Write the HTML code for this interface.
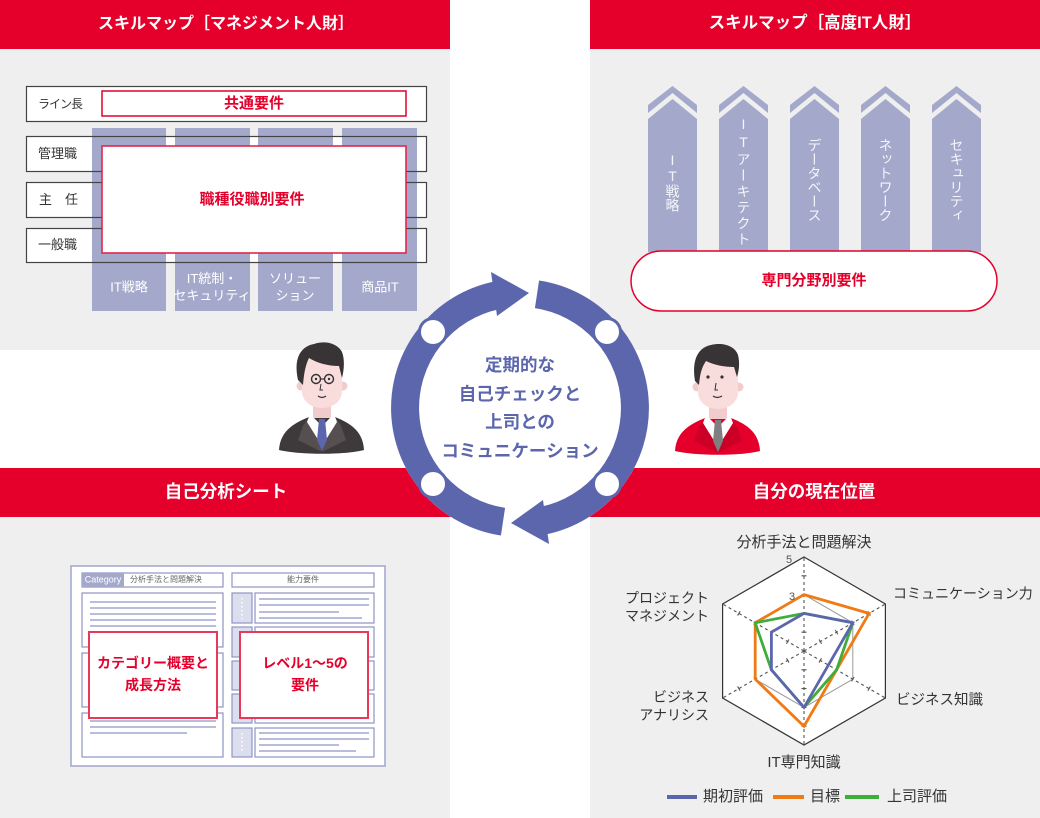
<!DOCTYPE html>
<html><head><meta charset="utf-8">
<style>
*{margin:0;padding:0;box-sizing:border-box}
html,body{width:1040px;height:818px;overflow:hidden;background:#fff}
body{position:relative;font-family:"Liberation Sans","Noto Sans CJK JP",sans-serif}
svg{position:absolute;left:0;top:0}
.t{position:absolute;white-space:nowrap;line-height:1.2}
.c{transform:translate(-50%,-50%);text-align:center}
.l{transform:translate(0,-50%)}
.r{transform:translate(-100%,-50%);text-align:right}
.v{position:absolute;writing-mode:vertical-rl;text-orientation:upright;transform:translate(-50%,-50%);color:#f4f5fa;font-size:14px;line-height:1;white-space:nowrap}
.hd{color:#fff;font-weight:bold}
.rd{color:#e4002b;font-weight:bold;font-size:15px}
.wl{color:#fff;font-size:13px;line-height:17px}
.lb{color:#333;font-size:13px}
.rl{color:#333;font-size:14.5px}
</style></head><body>
<svg width="1040" height="818" viewBox="0 0 1040 818">
<defs>
<g id="ax" stroke="#555" stroke-width="1.1" fill="none"><line x1="804" y1="651" x2="804" y2="557" stroke-dasharray="3 3"/><path d="M801.5 632.2H806.5M801.5 613.4H806.5M801.5 594.6H806.5M801.5 575.8H806.5"/></g>
</defs>
<!-- backgrounds -->
<rect x="0" y="0" width="450" height="49" fill="#e4002b"/>
<rect x="590" y="0" width="450" height="49" fill="#e4002b"/>
<rect x="0" y="49" width="450" height="301" fill="#eeefee"/>
<rect x="590" y="49" width="450" height="301" fill="#eeefee"/>
<rect x="0" y="468" width="1040" height="49" fill="#e4002b"/>
<rect x="0" y="517" width="450" height="301" fill="#eeefee"/>
<rect x="590" y="517" width="450" height="301" fill="#eeefee"/>

<!-- top-left panel -->
<rect x="26.5" y="86.5" width="400" height="35" fill="#fff" stroke="#444" stroke-width="1.2"/>
<rect x="102" y="91" width="304" height="25" fill="#fff" stroke="#e4002b" stroke-width="1.5"/>
<rect x="26.5" y="136.5" width="400" height="35" fill="#fff"/>
<rect x="26.5" y="182.5" width="400" height="35" fill="#fff"/>
<rect x="26.5" y="228.5" width="400" height="34" fill="#fff"/>
<g fill="#a4a9cb">
<rect x="92" y="128" width="74" height="183"/>
<rect x="175" y="128" width="75" height="183"/>
<rect x="258" y="128" width="75" height="183"/>
<rect x="342" y="128" width="75" height="183"/>
</g>
<g fill="none" stroke="#444" stroke-width="1.2">
<rect x="26.5" y="136.5" width="400" height="35"/>
<rect x="26.5" y="182.5" width="400" height="35"/>
<rect x="26.5" y="228.5" width="400" height="34"/>
</g>
<rect x="102" y="146" width="304" height="107" fill="#fff" stroke="#e5254a" stroke-width="1.6"/>

<!-- top-right panel -->
<g fill="#a4a9cb">
<polygon points="648,105 672.5,86 697,105 697,113 672.5,93 648,113"/><polygon points="648,119 672.5,99 697,119 697,252 648,252"/>
<polygon points="719,105 743.5,86 768,105 768,113 743.5,93 719,113"/><polygon points="719,119 743.5,99 768,119 768,252 719,252"/>
<polygon points="790,105 814.5,86 839,105 839,113 814.5,93 790,113"/><polygon points="790,119 814.5,99 839,119 839,252 790,252"/>
<polygon points="861,105 885.5,86 910,105 910,113 885.5,93 861,113"/><polygon points="861,119 885.5,99 910,119 910,252 861,252"/>
<polygon points="932,105 956.5,86 981,105 981,113 956.5,93 932,113"/><polygon points="932,119 956.5,99 981,119 981,252 932,252"/>
</g>
<rect x="631" y="251" width="366" height="60" rx="30" ry="30" fill="#fff" stroke="#e4002b" stroke-width="1.5"/>

<!-- sheet -->
<rect x="71" y="566" width="314" height="200" fill="#fff" stroke="#a0a5cd" stroke-width="1.5"/>
<rect x="82" y="573" width="141" height="14" fill="#fff" stroke="#8f94c3" stroke-width="1.2"/>
<rect x="82" y="573" width="42" height="14" fill="#a4a9cb"/>
<rect x="232" y="573" width="142" height="14" fill="#fff" stroke="#8f94c3" stroke-width="1.2"/>
<g fill="#fff" stroke="#8f94c3" stroke-width="1.2">
<rect x="82" y="593" width="141" height="54"/>
<rect x="82" y="653" width="141" height="54"/>
<rect x="82" y="713" width="141" height="44"/>
<rect x="255" y="593" width="119" height="30"/>
<rect x="255" y="627" width="119" height="30"/>
<rect x="255" y="661" width="119" height="29"/>
<rect x="255" y="694" width="119" height="29"/>
<rect x="255" y="728" width="119" height="29"/>
</g>
<g fill="#dcdeee" stroke="#8f94c3" stroke-width="1.2">
<rect x="232" y="593" width="20" height="30"/>
<rect x="232" y="627" width="20" height="30"/>
<rect x="232" y="661" width="20" height="29"/>
<rect x="232" y="694" width="20" height="29"/>
<rect x="232" y="728" width="20" height="29"/>
</g>
<g stroke="#fff" stroke-width="1.5" stroke-dasharray="1.5 2.5">
<line x1="242" y1="598" x2="242" y2="619"/>
<line x1="242" y1="632" x2="242" y2="653"/>
<line x1="242" y1="666" x2="242" y2="686"/>
<line x1="242" y1="699" x2="242" y2="719"/>
<line x1="242" y1="733" x2="242" y2="753"/>
</g>
<g stroke="#b9bcdb" stroke-width="2">
<line x1="90" y1="602" x2="216" y2="602"/>
<line x1="90" y1="608" x2="216" y2="608"/>
<line x1="90" y1="614" x2="216" y2="614"/>
<line x1="90" y1="620" x2="216" y2="620"/>
<line x1="90" y1="626" x2="216" y2="626"/>
<line x1="90" y1="721" x2="216" y2="721"/>
<line x1="90" y1="727" x2="216" y2="727"/>
<line x1="90" y1="733" x2="187" y2="733"/>
<line x1="259" y1="599" x2="369" y2="599"/>
<line x1="259" y1="605" x2="369" y2="605"/>
<line x1="259" y1="612" x2="339" y2="612"/>
<line x1="259" y1="618" x2="362" y2="618"/>
<line x1="259" y1="633" x2="369" y2="633"/>
<line x1="259" y1="667" x2="369" y2="667"/>
<line x1="259" y1="700" x2="369" y2="700"/>
<line x1="259" y1="733" x2="369" y2="733"/>
<line x1="259" y1="739" x2="369" y2="739"/>
<line x1="259" y1="745" x2="339" y2="745"/>
<line x1="259" y1="751" x2="356" y2="751"/>
</g>
<rect x="89" y="632" width="128" height="86" fill="#fff" stroke="#e8395c" stroke-width="2"/>
<rect x="240" y="632" width="128" height="86" fill="#fff" stroke="#e8395c" stroke-width="2"/>

<!-- radar -->
<polygon points="804,557 885.4,604 885.4,698 804,745 722.6,698 722.6,604" fill="#fff" stroke="#333" stroke-width="1.2"/>
<polygon points="804,594.6 852.8,622.8 852.8,679.2 804,707.4 755.2,679.2 755.2,622.8" fill="none" stroke="#999" stroke-width="1"/>
<use href="#ax"/>
<use href="#ax" transform="rotate(60 804 651)"/>
<use href="#ax" transform="rotate(120 804 651)"/>
<use href="#ax" transform="rotate(180 804 651)"/>
<use href="#ax" transform="rotate(240 804 651)"/>
<use href="#ax" transform="rotate(300 804 651)"/>
<polygon points="804,594.6 869.1,613.4 836.6,669.8 804,726.2 755.2,679.2 755.2,622.8" fill="none" stroke="#f07a14" stroke-width="2.8" stroke-linejoin="miter"/>
<polygon points="804,613.4 852.8,622.8 836.6,669.8 804,707.4 771.4,669.8 755.2,622.8" fill="none" stroke="#3dae3a" stroke-width="2.8"/>
<polygon points="804,613.4 852.8,622.8 828.4,665.1 804,707.4 771.4,669.8 771.4,632.2" fill="none" stroke="#5b66ad" stroke-width="2.8"/>
<g stroke-width="4">
<line x1="667" y1="797" x2="697" y2="797" stroke="#5b66ad"/>
<line x1="773" y1="797" x2="804" y2="797" stroke="#f07a14"/>
<line x1="845" y1="797" x2="879" y2="797" stroke="#3dae3a"/>
</g>
<text x="789" y="563" font-size="11" fill="#555" text-anchor="middle" font-family="Liberation Sans, sans-serif">5</text>
<text x="792" y="600" font-size="11" fill="#555" text-anchor="middle" font-family="Liberation Sans, sans-serif">3</text>

<!-- left man -->
<g>
<path d="M279,450 C280,433 291,424 309,417 L335,417 C353,424 363,433 364,450 C345,455 300,455 279,450Z" fill="#3e3a3b"/>
<path d="M309,417 L322,452 L298,440 L303,426Z" fill="#55504f"/>
<path d="M335,417 L322,452 L346,440 L341,426Z" fill="#55504f"/>
<rect x="313" y="398" width="18" height="20" fill="#f2cccc"/>
<path d="M310,414 L322,426 L334,414 L337,422 L322,446 L307,422Z" fill="#fff"/>
<path d="M319,419 L325,419 L327,440 L322,451 L317,440Z" fill="#5b66ad"/>
<circle cx="301" cy="386" r="4.5" fill="#f2cccc"/>
<circle cx="343" cy="386" r="4.5" fill="#f2cccc"/>
<path d="M302,356 L342,356 L342,391 C342,401 333,408 322,408 C311,408 302,401 302,391Z" fill="#f9dcdc"/>
<path d="M298,380 C294,362 298,347 314,344 C326,340 338,344 342,352 C345,360 344,370 342,378 L339,366 C328,366 317,363 309,358 C306,364 304,372 303,385Z" fill="#383435"/>
<circle cx="316" cy="379" r="4.5" fill="none" stroke="#333" stroke-width="1.4"/>
<circle cx="329" cy="379" r="4.5" fill="none" stroke="#333" stroke-width="1.4"/>
<line x1="320.5" y1="379" x2="324.5" y2="379" stroke="#333" stroke-width="1.2"/>
<circle cx="316" cy="379" r="1.2" fill="#333"/><circle cx="329" cy="379" r="1.2" fill="#333"/>
<path d="M321,384 L320,390 L323,390" fill="none" stroke="#333" stroke-width="1"/>
<path d="M318,396 Q322,399 326,396" fill="none" stroke="#333" stroke-width="1.2"/>
</g>
<!-- right man -->
<g transform="translate(396,1)">
<path d="M279,450 C280,433 291,424 309,417 L335,417 C353,424 363,433 364,450 C345,455 300,455 279,450Z" fill="#e4002b"/>
<path d="M309,417 L322,452 L298,440 L303,426Z" fill="#cc0026"/>
<path d="M335,417 L322,452 L346,440 L341,426Z" fill="#cc0026"/>
<rect x="313" y="398" width="18" height="20" fill="#f2cccc"/>
<path d="M310,414 L322,426 L334,414 L337,422 L322,446 L307,422Z" fill="#fff"/>
<path d="M319,419 L325,419 L327,440 L322,451 L317,440Z" fill="#7f7f7f"/>
<circle cx="301" cy="386" r="4.5" fill="#f2cccc"/>
<circle cx="343" cy="386" r="4.5" fill="#f2cccc"/>
<path d="M302,356 L342,356 L342,391 C342,401 333,408 322,408 C311,408 302,401 302,391Z" fill="#f9dcdc"/>
<path d="M299,380 C296,362 300,347 315,344 C327,341 339,345 342,354 C344,362 343,370 341,376 L338,366 C328,366 318,364 310,360 C306,366 304,372 303,384Z" fill="#383435"/>
<circle cx="312" cy="376" r="1.6" fill="#333"/><circle cx="326" cy="376" r="1.6" fill="#333"/>
<path d="M320,382 L319,389 L322,389" fill="none" stroke="#333" stroke-width="1"/>
<path d="M317,395 Q321,398 326,395" fill="none" stroke="#333" stroke-width="1.2"/>
</g>

<!-- ring -->
<circle cx="520" cy="408" r="129" fill="#fff"/>
<g fill="none" stroke="#5b66ad" stroke-width="28">
<path d="M503.0,521.7 A115,115 0 0 1 496.1,295.5"/>
<path d="M537.0,294.3 A115,115 0 0 1 543.9,520.5"/>
</g>
<g fill="#5b66ad">
<polygon points="491,272 529,293 497,316"/>
<polygon points="549,544 511,523 543,500"/>
</g>
<g fill="#fff" stroke="#5b66ad" stroke-width="3">
<circle cx="433" cy="332" r="13.5"/>
<circle cx="607" cy="332" r="13.5"/>
<circle cx="433" cy="484" r="13.5"/>
<circle cx="607" cy="484" r="13.5"/>
</g>
</svg>

<!-- headers -->
<div class="t c hd" style="left:226px;top:24px;font-size:16px">スキルマップ［マネジメント人財］</div>
<div class="t c hd" style="left:815px;top:24px;font-size:16.5px">スキルマップ［高度IT人財］</div>
<div class="t c hd" style="left:226px;top:492px;font-size:17.5px">自己分析シート</div>
<div class="t c hd" style="left:814px;top:492px;font-size:17.5px">自分の現在位置</div>

<!-- top-left texts -->
<div class="t l lb" style="left:38px;top:104px;font-size:12px;letter-spacing:-1px">ライン長</div>
<div class="t l lb" style="left:38px;top:154px">管理職</div>
<div class="t l lb" style="left:39px;top:200px">主　任</div>
<div class="t l lb" style="left:38px;top:245px">一般職</div>
<div class="t c rd" style="left:254px;top:104px">共通要件</div>
<div class="t c rd" style="left:252px;top:200px">職種役職別要件</div>
<div class="t c wl" style="left:129px;top:287px">IT戦略</div>
<div class="t c wl" style="left:212px;top:287px">IT統制・<br>セキュリティ</div>
<div class="t c wl" style="left:295px;top:287px">ソリュー<br>ション</div>
<div class="t c wl" style="left:380px;top:287px">商品IT</div>

<!-- top-right texts -->
<div class="v" style="left:672.5px;top:182px">IT戦略</div>
<div class="v" style="left:743.5px;top:182px;letter-spacing:2px">ITアーキテクト</div>
<div class="v" style="left:814.5px;top:180px">データベース</div>
<div class="v" style="left:885.5px;top:180px">ネットワーク</div>
<div class="v" style="left:956.5px;top:180px">セキュリティ</div>
<div class="t c rd" style="left:814px;top:281px">専門分野別要件</div>

<!-- center -->
<div class="t c" style="left:520px;top:408px;font-size:17.5px;font-weight:bold;color:#5b66ad;line-height:28.5px">定期的な<br>自己チェックと<br>上司との<br>コミュニケーション</div>

<!-- sheet texts -->
<div class="t c" style="left:103px;top:580px;font-size:9px;color:#fff">Category</div>
<div class="t l" style="left:130px;top:580px;font-size:8px;color:#666">分析手法と問題解決</div>
<div class="t c" style="left:303px;top:580px;font-size:8px;color:#666">能力要件</div>
<div class="t c" style="left:153px;top:674px;font-size:14px;font-weight:bold;color:#e4002b;line-height:22px">カテゴリー概要と<br>成長方法</div>
<div class="t c" style="left:305px;top:674px;font-size:14px;font-weight:bold;color:#e4002b;line-height:22px">レベル1～5の<br>要件</div>

<!-- radar texts -->
<div class="t c rl" style="left:804px;top:543px;font-size:15px">分析手法と問題解決</div>
<div class="t l rl" style="left:893px;top:594px;font-size:14px">コミュニケーション力</div>
<div class="t l rl" style="left:896px;top:701px;font-size:14.5px">ビジネス知識</div>
<div class="t c rl" style="left:804px;top:763px;font-size:15px">IT専門知識</div>
<div class="t r rl" style="left:709px;top:607px;font-size:14px;line-height:18px">プロジェクト<br>マネジメント</div>
<div class="t r rl" style="left:709px;top:706px;font-size:14px;line-height:18px">ビジネス<br>アナリシス</div>
<div class="t l rl" style="left:703px;top:797px;font-size:15px">期初評価</div>
<div class="t l rl" style="left:810px;top:797px;font-size:15px">目標</div>
<div class="t l rl" style="left:887px;top:797px;font-size:15px">上司評価</div>
</body></html>
